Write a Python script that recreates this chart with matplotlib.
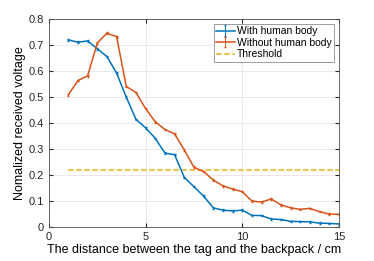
import numpy as np
import matplotlib
matplotlib.use("Agg")
import matplotlib.pyplot as plt

# distance between tag and backpack (cm)
dist = [1, 1.5, 2, 2.5, 3, 3.5, 4, 4.5, 5, 5.5, 6, 6.5, 7, 7.5, 8, 8.5, 9, 9.5,
        10, 10.5, 11, 11.5, 12, 12.5, 13, 13.5, 14, 14.5, 15]
with_body = [0.720, 0.711, 0.716, 0.686, 0.656, 0.592, 0.500, 0.415, 0.382,
             0.342, 0.285, 0.279, 0.192, 0.156, 0.120, 0.075, 0.066, 0.063,
             0.066, 0.046, 0.045, 0.032, 0.030, 0.023, 0.022, 0.021, 0.016,
             0.015, 0.013]
without_body = [0.509, 0.564, 0.582, 0.708, 0.746, 0.732, 0.541, 0.518, 0.456,
                0.405, 0.376, 0.359, 0.297, 0.231, 0.214, 0.182, 0.159, 0.147,
                0.137, 0.101, 0.097, 0.109, 0.086, 0.075, 0.069, 0.073, 0.060,
                0.051, 0.050]
err_with = [0.003] * len(dist)
err_without = [0.003] * len(dist)
threshold = 0.22

plt.rcParams['font.family'] = ['Liberation Sans', 'DejaVu Sans']
plt.rcParams['font.size'] = 8

fig = plt.figure(figsize=(3.74, 2.61), dpi=100)
ax = fig.add_axes([0.131, 0.129, 0.775, 0.798])

h1 = ax.errorbar(dist, with_body, yerr=err_with, color='#0072BD', lw=1.1,
                 capsize=1.0, elinewidth=0.7, label='With human body')
h2 = ax.errorbar(dist, without_body, yerr=err_without, color='#D95319', lw=1.1,
                 capsize=1.0, elinewidth=0.7, label='Without human body')
h3, = ax.plot([dist[0], dist[-1]], [threshold, threshold], '--', color='#EDB120',
              lw=1.1, label='Threshold')

ax.set_xlim(0, 15)
ax.set_ylim(0, 0.8)
ax.set_xticks([0, 5, 10, 15])
ax.set_yticks(np.arange(0, 0.81, 0.1))
ax.set_yticklabels(['0', '0.1', '0.2', '0.3', '0.4', '0.5', '0.6', '0.7', '0.8'])
ax.grid(True, color='#e6e6e6', lw=0.6)
ax.set_axisbelow(True)
ax.tick_params(direction='in', length=3, top=True, right=True, colors='#262626',
               labelsize=8)
for s in ax.spines.values():
    s.set_color('#4d4d4d')
    s.set_linewidth(0.6)

ax.set_xlabel('The distance between the tag and the backpack / cm', fontsize=9,
              labelpad=1)
ax.set_ylabel('Nomalized received voltage', fontsize=9, labelpad=2)

leg = ax.legend([h1, h2, h3], ['With human body', 'Without human body', 'Threshold'],
                loc='upper right', fontsize=7.5, fancybox=False, framealpha=1,
                edgecolor='#8c8c8c', borderpad=0.2, labelspacing=0.15,
                handlelength=1.8, handletextpad=0.2, borderaxespad=0.5)
leg.get_frame().set_linewidth(0.6)

fig.savefig('out.png', dpi=100)
